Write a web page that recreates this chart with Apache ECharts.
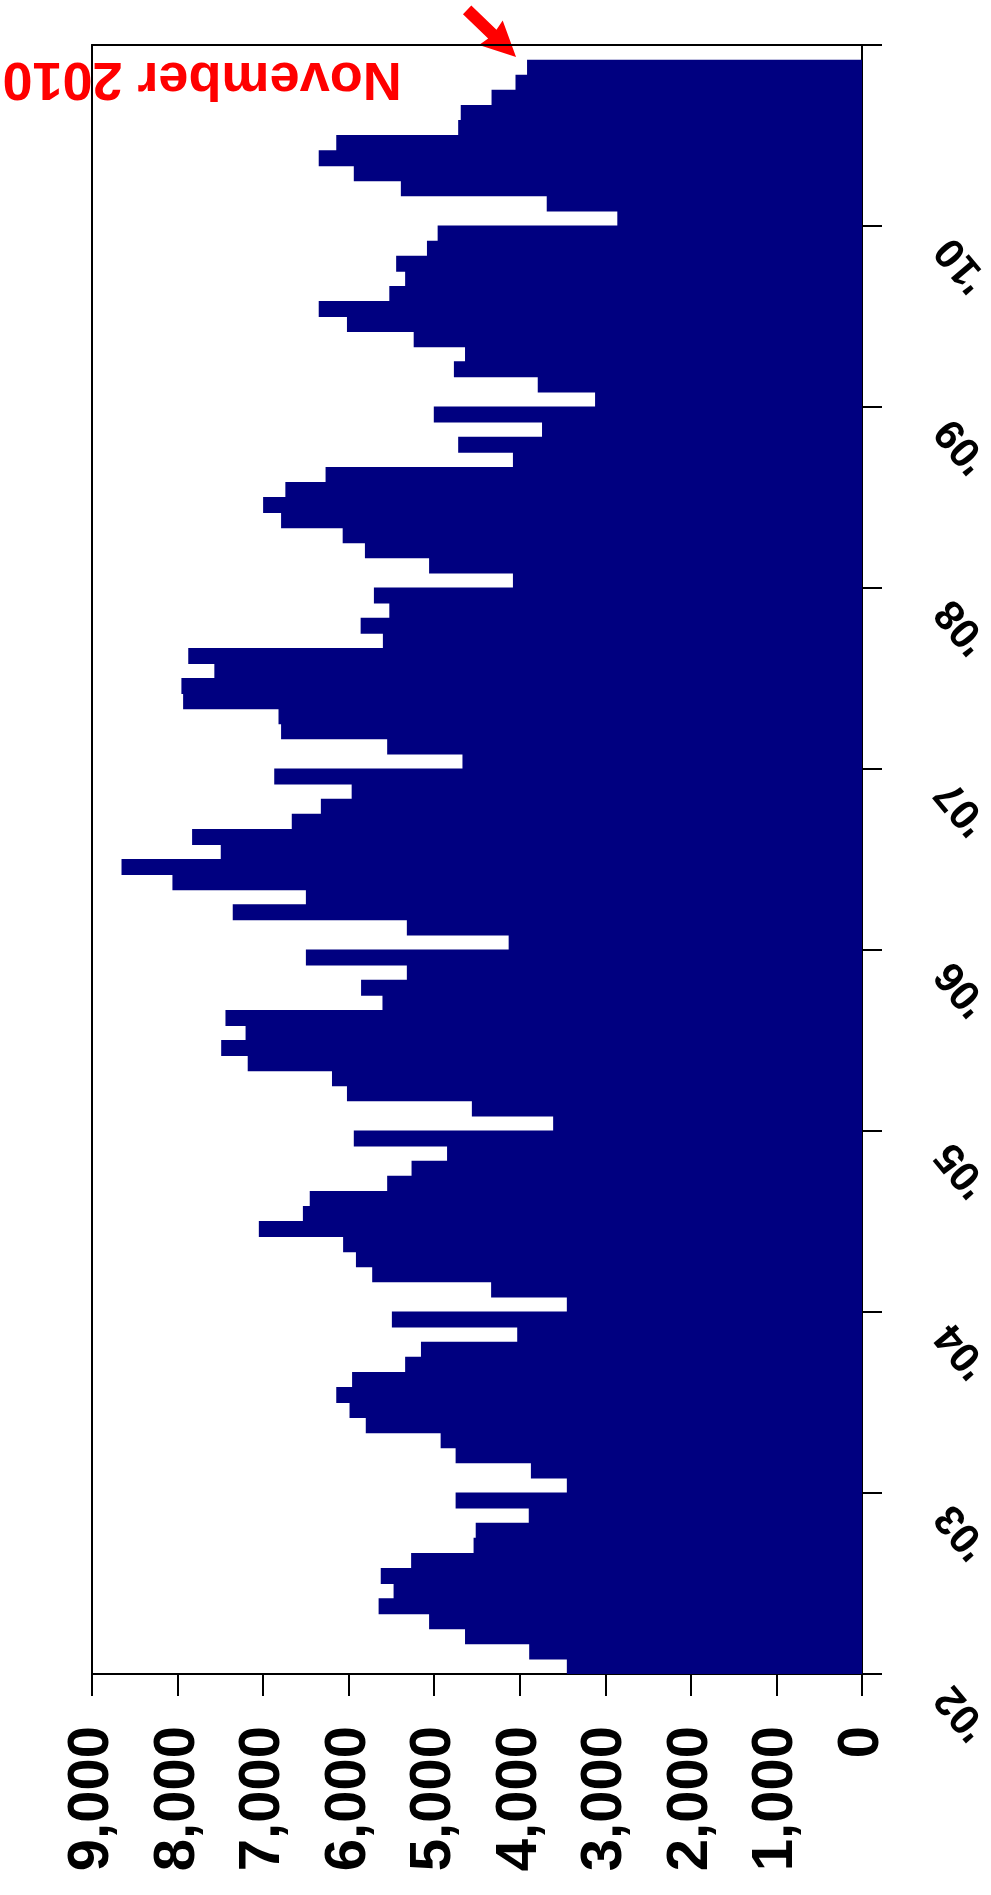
<!DOCTYPE html>
<html>
<head>
<meta charset="utf-8">
<script src="https://cdn.jsdelivr.net/npm/echarts@6/dist/echarts.min.js"></script>
<style>
  html, body { margin: 0; padding: 0; background: #fff; }
  #chart { width: 991px; height: 1895px; }
</style>
</head>
<body>
<div id="chart"></div>
<script>
// monthly values, Jan 2002 .. Nov 2010
const values = [
  3450, 3890, 4640, 5060, 5650, 5475, 5625, 5270, 4540, 4515, 3895, 4750,
  3450, 3870, 4750, 4925, 5800, 5990, 6145, 5960, 5340, 5155, 4030, 5495,
  3450, 4335, 5725, 5915, 6065, 7050, 6535, 6455, 5550, 5265, 4850, 5940,
  3610, 4560, 6020, 6195, 7180, 7490, 7205, 7440, 5605, 5855, 5320, 6500,
  4130, 5320, 7355, 6500, 8060, 8655, 7495, 7830, 6665, 6325, 5965, 6870,
  4670, 5550, 6790, 6820, 7935, 7955, 7570, 7875, 5600, 5860, 5525, 5705,
  4080, 5060, 5810, 6070, 6790, 7000, 6740, 6270, 4080, 4720, 3740, 5005,
  3120, 3790, 4770, 4640, 5240, 6020, 6350, 5525, 5340, 5445, 5085, 4960,
  2860, 3685, 5390, 5940, 6350, 6145, 4720, 4690, 4330, 4050, 3915
]
const years = [2002, 2003, 2004, 2005, 2006, 2007, 2008, 2009, 2010]
const yearLabels = ["'02", "'03", "'04", "'05", "'06", "'07", "'08", "'09", "'10"]
const valueTicks = ['0', '1,000', '2,000', '3,000', '4,000', '5,000', '6,000', '7,000', '8,000', '9,000']
const note = 'November 2010'

// one category per month, Dec 2010 left empty
const months = []
years.forEach((y) => {
  for (let m = 1; m <= 12; m++) months.push(y + '-' + String(m).padStart(2, '0'))
})

const FONT = '"Liberation Sans", Arial, sans-serif'
const NAVY = '#000080'
const chart = echarts.init(document.getElementById('chart'))

chart.setOption({
  animation: false,
  backgroundColor: '#fff',
  grid: { left: 92, right: 129, top: 45, bottom: 221, containLabel: false, outerBoundsMode: 'none' },
  xAxis: [
    {
      type: 'value',
      inverse: true,
      min: 0,
      max: 9000,
      interval: 1000,
      position: 'bottom',
      axisLine: { show: true, onZero: false, lineStyle: { color: '#000', width: 2 } },
      axisTick: { show: true, length: 22, lineStyle: { color: '#000', width: 2 } },
      splitLine: { show: false },
      axisLabel: {
        rotate: 90,
        margin: 52,
        color: '#000',
        fontSize: 58,
        fontWeight: 'bold',
        fontFamily: FONT,
        formatter: (v) => valueTicks[Math.round(v / 1000)]
      }
    },
    {
      type: 'value',
      inverse: true,
      min: 0,
      max: 9000,
      position: 'top',
      axisLine: { show: true, onZero: false, lineStyle: { color: '#000', width: 2 } },
      axisTick: { show: false },
      axisLabel: { show: false },
      splitLine: { show: false }
    }
  ],
  yAxis: [
    {
      type: 'category',
      data: months,
      position: 'left',
      axisLine: { show: true, onZero: false, lineStyle: { color: '#000', width: 2 } },
      axisTick: { show: false },
      axisLabel: { show: false }
    },
    {
      type: 'value',
      min: 2002,
      max: 2011,
      interval: 1,
      position: 'right',
      axisLine: { show: true, onZero: false, lineStyle: { color: '#000', width: 2 } },
      axisTick: { show: true, length: 20, lineStyle: { color: '#000', width: 2 } },
      splitLine: { show: false },
      axisLabel: {
        rotate: 130,
        margin: 68,
        padding: [0, 22, 0, 0],
        color: '#000',
        fontSize: 42,
        fontWeight: 'bold',
        fontFamily: FONT,
        formatter: (v) => {
          const i = years.indexOf(v)
          return i < 0 ? '' : yearLabels[i]
        }
      }
    }
  ],
  series: [
    {
      type: 'bar',
      xAxisIndex: 0,
      yAxisIndex: 0,
      data: values,
      barWidth: 16, // a hair wider than the month band so steps join without seams
      itemStyle: { color: NAVY }
    }
  ]
})

// arrow + note pinned to the last bar
const last = values.length - 1
const p = chart.convertToPixel({ xAxisIndex: 0, yAxisIndex: 0 }, [values[last], last])
const band = chart.getModel().getComponent('yAxis', 0).axis.getBandWidth()
const tip = [p[0] - 11, p[1] - band / 2 - 3]

chart.setOption({
  graphic: [
    {
      type: 'polygon',
      x: tip[0],
      y: tip[1],
      rotation: -44 * Math.PI / 180,
      shape: {
        points: [[0, 0], [-35, -17], [-33, -6], [-68, -6], [-68, 6], [-33, 6], [-35, 17]]
      },
      style: { fill: '#ff0000' }
    },
    {
      type: 'text',
      x: tip[0] - 314,
      y: tip[1] + 21,
      rotation: Math.PI,
      style: {
        text: note,
        fill: '#ff0000',
        font: 'bold 54px ' + FONT,
        textAlign: 'center',
        textVerticalAlign: 'middle'
      }
    }
  ]
})
</script>
</body>
</html>
